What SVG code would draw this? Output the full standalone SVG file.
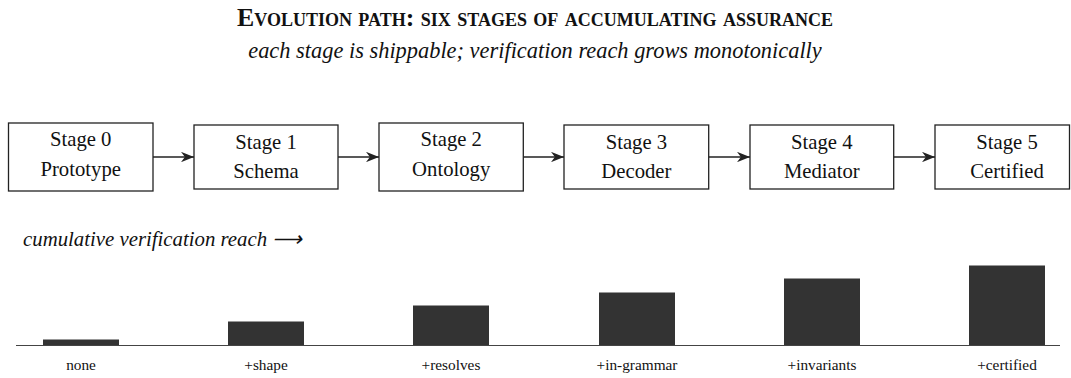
<svg xmlns="http://www.w3.org/2000/svg" width="1071" height="378" viewBox="0 0 1071 378">
<defs>
<style>
.t{font-family:"Liberation Serif","Times New Roman",serif;fill:#111}
.title{font-size:25.8px;font-weight:bold;font-variant:small-caps}
.it{font-style:italic}
.box{fill:#fff;stroke:#222;stroke-width:1.3}
.bt{font-size:20.7px;text-anchor:middle}
.lab{font-size:15.3px;text-anchor:middle}
.conn{stroke:#222;stroke-width:1.4;fill:none}
.bar{fill:#333}
</style>
<marker id="ah" viewBox="0 0 10 8" markerWidth="13" markerHeight="10.4" refX="10" refY="4" orient="auto" markerUnits="userSpaceOnUse">
<path d="M0,0 L10,4 L0,8 L3,4 z" fill="#222"/>
</marker>
</defs>
<rect width="1071" height="378" fill="#fff"/>
<text class="t title" x="535" y="26" text-anchor="middle">Evolution path: six stages of accumulating assurance</text>
<text class="t it" x="535" y="58" font-size="22.4" text-anchor="middle">each stage is shippable; verification reach grows monotonically</text>

<g id="connectors">
<line class="conn" x1="153" y1="157" x2="194" y2="157" marker-end="url(#ah)"/>
<line class="conn" x1="338" y1="157" x2="379" y2="157" marker-end="url(#ah)"/>
<line class="conn" x1="523" y1="157" x2="564" y2="157" marker-end="url(#ah)"/>
<line class="conn" x1="709" y1="157" x2="750" y2="157" marker-end="url(#ah)"/>
<line class="conn" x1="894" y1="157" x2="935" y2="157" marker-end="url(#ah)"/>
</g>

<g id="stage0"><rect class="box" x="8.5" y="123" width="144.5" height="68"/><text class="t bt" x="80.7" y="146">Stage 0</text><text class="t bt" x="80.7" y="175.5">Prototype</text></g>
<g id="stage1"><rect class="box" x="194" y="125" width="144" height="64"/><text class="t bt" x="266" y="148.5">Stage 1</text><text class="t bt" x="266" y="178">Schema</text></g>
<g id="stage2"><rect class="box" x="379" y="123" width="144.3" height="68"/><text class="t bt" x="451.2" y="146">Stage 2</text><text class="t bt" x="451.2" y="175.5">Ontology</text></g>
<g id="stage3"><rect class="box" x="564" y="125" width="144.7" height="64"/><text class="t bt" x="636.4" y="148.5">Stage 3</text><text class="t bt" x="636.4" y="178">Decoder</text></g>
<g id="stage4"><rect class="box" x="750" y="125" width="143.7" height="64"/><text class="t bt" x="821.8" y="148.5">Stage 4</text><text class="t bt" x="821.8" y="178">Mediator</text></g>
<g id="stage5"><rect class="box" x="935" y="125" width="134.5" height="64"/><text class="t bt" x="1007" y="148.5">Stage 5</text><text class="t bt" x="1007" y="178">Certified</text></g>

<text class="t it" x="23" y="246" font-size="20.8">cumulative verification reach ⟶</text>

<g id="chart">
<rect class="bar" x="43" y="339.5" width="76" height="6"/>
<rect class="bar" x="228" y="321.5" width="76" height="24"/>
<rect class="bar" x="413" y="305.5" width="76" height="40"/>
<rect class="bar" x="599" y="292.5" width="76" height="53"/>
<rect class="bar" x="784" y="278.5" width="76" height="67"/>
<rect class="bar" x="969" y="265.5" width="76" height="80"/>
<line x1="16" y1="345.5" x2="1060" y2="345.5" stroke="#444" stroke-width="1.2"/>
<text class="t lab" x="81" y="369.5">none</text>
<text class="t lab" x="266" y="369.5">+shape</text>
<text class="t lab" x="451" y="369.5">+resolves</text>
<text class="t lab" x="637" y="369.5">+in-grammar</text>
<text class="t lab" x="822" y="369.5">+invariants</text>
<text class="t lab" x="1007" y="369.5">+certified</text>
</g>
</svg>
